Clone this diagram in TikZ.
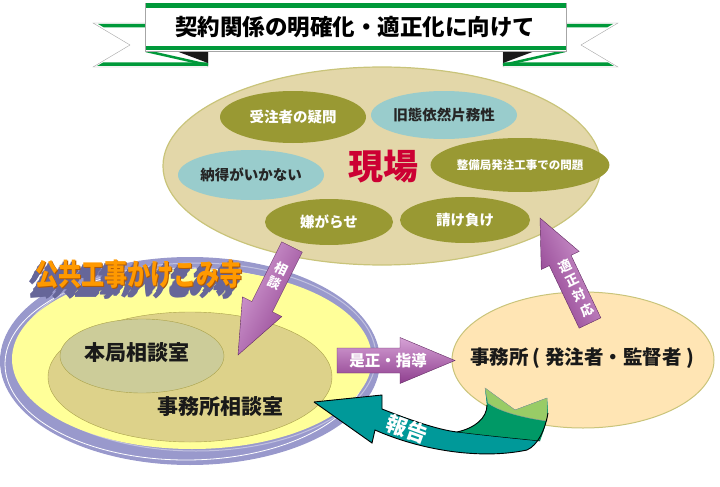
\documentclass[tikz,border=0pt]{standalone}
\usepackage{fontspec}
\setmainfont{Noto Sans CJK JP}
\usetikzlibrary{calc, shapes.geometric}
\definecolor{ribbongreen}{HTML}{00993A}
\definecolor{sitetan}{HTML}{E3D7A9}
\definecolor{siteedge}{HTML}{C9C47A}
\definecolor{siteolive}{HTML}{999933}
\definecolor{siteblue}{HTML}{99CCCC}
\definecolor{sitered}{HTML}{CC0033}
\definecolor{ringblue}{HTML}{9999CC}
\definecolor{templeyellow}{HTML}{FFFF99}
\definecolor{roomouter}{HTML}{DDD28A}
\definecolor{roominner}{HTML}{CCCC99}
\definecolor{roomedge}{HTML}{AAA24A}
\definecolor{officepeach}{HTML}{FFE5B4}
\definecolor{arrowlight}{HTML}{D6A2D6}
\definecolor{arrowdark}{HTML}{8E3E8E}
\definecolor{reportteal}{HTML}{009999}
\definecolor{reportgreen}{HTML}{009966}
\definecolor{reportlight}{HTML}{99CC66}
\definecolor{templeorange}{HTML}{FF9900}
\definecolor{shadowblue}{HTML}{666699}
\newcommand{\blockarrow}[5]{%
  \coordinate (#1-base) at ($(#1-tip)!#4!(#1-tail)$);
  \draw[fatarrow, #5] ($(#1-tail)!#2!90:(#1-tip)$) -- ($(#1-base)!#2!90:(#1-tip)$)
    -- ($(#1-base)!#3!90:(#1-tip)$) -- (#1-tip)
    -- ($(#1-base)!#3!-90:(#1-tip)$) -- ($(#1-base)!#2!-90:(#1-tip)$)
    -- ($(#1-tail)!#2!-90:(#1-tip)$) -- cycle;}
\newcommand{\templeword}{\scalebox{1}[1.3]{公共工事かけこみ寺}}
\newcommand{\templetitle}{%
  \foreach \d [evaluate=\d as \dx using 0.75*\d, evaluate=\d as \dy using 1.2*\d] in {9,...,1}{%
    \rlap{\hspace*{-\dx pt}\raisebox{-\dy pt}{\textcolor{shadowblue}{\templeword}}}}%
  \rlap{\hspace*{0.6pt}\raisebox{-0.6pt}{\textcolor{orange!70!black}{\templeword}}}%
  \textcolor{templeorange}{\templeword}}

\begin{document}
\begin{tikzpicture}[x=1pt, y=-1pt,
    blob/.style={ellipse, inner sep=0pt},
    issue/.style={blob, fill=siteolive, text=white, font=\bfseries\fontsize{14.5}{16}\selectfont},
    doubt/.style={issue, fill=siteblue, text=black!85},
    fatarrow/.style={draw=arrowdark!70!black, line width=0.4pt, left color=arrowlight, right color=arrowdark},
    arrowtext/.style={text=white, font=\bfseries\fontsize{13}{16.5}\selectfont, align=center, inner sep=0pt},
    roomtext/.style={font=\bfseries\fontsize{21}{24}\selectfont, text=black!90},
    templefont/.style={font=\bfseries\fontsize{23}{26}\selectfont, inner sep=0pt}]
  \useasboundingbox (0,0) rectangle (720,487);

  % ribbon
  \filldraw[fill=white, draw=gray!70] (93,23) -- (208,23) -- (208,67) -- (93,67) -- (130,45) -- cycle;
  \filldraw[fill=white, draw=gray!70] (618,23) -- (503,23) -- (503,67) -- (618,67) -- (581,45) -- cycle;
  \fill[ribbongreen] (98,24) -- (208,24) -- (208,27.5) -- (104,27.5) -- cycle;
  \fill[ribbongreen] (613,24) -- (503,24) -- (503,27.5) -- (607,27.5) -- cycle;
  \fill[ribbongreen] (97,66) -- (208,66) -- (208,62.5) -- (103,62.5) -- cycle;
  \fill[ribbongreen] (614,66) -- (503,66) -- (503,62.5) -- (608,62.5) -- cycle;
  \fill[black!90] (176,51) -- (208,51) -- (208,63) -- cycle;
  \fill[black!90] (535,51) -- (503,51) -- (503,63) -- cycle;
  \draw[ribbongreen, line width=2.5pt] (146,51) -- (208,65);
  \draw[ribbongreen, line width=2.5pt] (565,51) -- (503,65);
  \filldraw[fill=white, draw=gray!70] (145,3) rectangle (566,51);
  \fill[ribbongreen] (145.5,3.5) rectangle (565.5,8);
  \fill[ribbongreen] (145.5,46.5) rectangle (565.5,50.5);
  \node[font=\bfseries\fontsize{22.5}{26}\selectfont] (headline) at (355,27) {契約関係の明確化・適正化に向けて};

  % temple
  \node[blob, fill=ringblue, minimum width=380pt, minimum height=208pt] (ring) at (190,361) {};
  \draw[white, line width=0.8pt] (186,364) ellipse [x radius=181pt, y radius=96pt];
  \draw[ringblue!60, line width=1pt] (196,357) ellipse [x radius=180pt, y radius=94pt];
  \node[blob, fill=templeyellow, minimum width=360pt, minimum height=180pt] (temple) at (192,359) {};
  \node[blob, fill=roomouter, draw=roomedge, minimum width=284pt, minimum height=130pt] (officeroom) at (190,377) {};
  \node[blob, fill=roominner, draw=roomedge, minimum width=164pt, minimum height=74pt] (hqroom) at (142,356) {};
  \node[roomtext] (hqlabel) at (137,353) {本局相談室};
  \node[roomtext] (officeroomlabel) at (220,407) {事務所相談室};
  \node[templefont] (templetitle) at (139,280) {\templetitle};

  % site
  \node[blob, fill=sitetan, draw=siteedge, line width=1.2pt, minimum width=438pt, minimum height=198pt] (site) at (382,166) {};
  \node[issue, minimum width=146pt, minimum height=52pt] (question) at (293,117) {受注者の疑問};
  \node[doubt, minimum width=146pt, minimum height=48pt] (oldstyle) at (444,115) {旧態依然片務性};
  \node[doubt, minimum width=146pt, minimum height=50pt] (unfair) at (251,175) {納得がいかない};
  \node[issue, minimum width=146pt, minimum height=54pt, font=\bfseries\fontsize{11.5}{13}\selectfont] (bureau) at (520,165) {整備局発注工事での問題};
  \node[issue, minimum width=128pt, minimum height=46pt] (harass) at (329,222) {嫌がらせ};
  \node[issue, minimum width=130pt, minimum height=46pt] (contract) at (465,220) {請け負け};
  \node[font=\bfseries\fontsize{35}{38}\selectfont, text=sitered] (sitelabel) at (383,167) {現場};

  % office
  \node[blob, fill=officepeach, draw=siteedge, line width=1pt, minimum width=262pt, minimum height=136pt] (office) at (583,360) {};
  \node[font=\bfseries\fontsize{19.5}{22}\selectfont, text=black!90] (officelabel) at (582,358) {事務所 ( 発注者・監督者 )};

  % arrows
  \coordinate (consult-tail) at (292,247);
  \coordinate (consult-tip) at (238,355);
  \blockarrow{consult}{11.5pt}{22pt}{54pt}{shading angle=63}
  \node[arrowtext, rotate=-26] (consultlabel) at (278,276) {相\\談};

  \coordinate (reply-tail) at (590,323);
  \coordinate (reply-tip) at (540,218);
  \blockarrow{reply}{12pt}{21pt}{47pt}{shading angle=-64}
  \node[arrowtext, rotate=26] (replylabel) at (576,288) {適\\正\\対\\応};

  \coordinate (guide-tail) at (337,360.5);
  \coordinate (guide-tip) at (455,360.5);
  \blockarrow{guide}{12.5pt}{23pt}{55pt}{shading angle=0}
  \node[arrowtext, font=\bfseries\fontsize{15.5}{18}\selectfont] (guidelabel) at (388,360.5) {是正・指導};

  \coordinate (report-tip) at (314,402);
  \fill[reportteal] (report-tip) -- (382,395) -- (382,409) .. controls (415,422) and (440,430) .. (457,432)
    .. controls (475,428) and (487,418) .. (487,405) -- (485,388) -- (515,410) -- (547,398) -- (548,413)
    .. controls (545,430) and (538,445) .. (527,450) .. controls (480,460) and (420,450) .. (375,430)
    -- (372,443) -- cycle;
  \fill[reportgreen] (457,432) .. controls (475,428) and (487,418) .. (487,405) -- (485,388) -- (515,410)
    -- (547,398) -- (548,413) .. controls (546,425) and (543,433) .. (540,441) .. controls (510,438) and (480,435) .. (457,432) -- cycle;
  \filldraw[fill=reportlight, draw=gray!80] (485,388) -- (515,410) -- (547,398) -- (547,421)
    .. controls (525,418) and (500,412) .. (488,403) -- cycle;
  \draw[black, line width=0.9pt] (report-tip) -- (382,395) -- (382,409) .. controls (415,422) and (440,430) .. (457,432)
    .. controls (475,428) and (487,418) .. (487,405);
  \draw[black, line width=0.9pt] (548,413) .. controls (545,430) and (538,445) .. (527,450)
    .. controls (480,460) and (420,450) .. (375,430) -- (372,443) -- (report-tip);
  \draw[black, line width=0.5pt] (457,432) .. controls (480,435) and (510,438) .. (540,441);
  \node[text=white, font=\bfseries\fontsize{21}{24}\selectfont, rotate=-20] (reportlabel) at (407,429) {報告};
\end{tikzpicture}
\end{document}
